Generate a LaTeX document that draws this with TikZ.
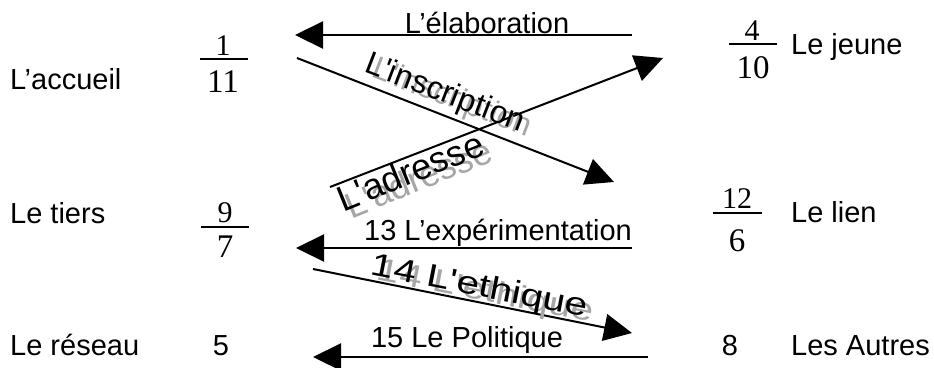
\documentclass[tikz,border=0pt]{standalone}
\usepackage{fontspec}
\usepackage{graphicx}
\setmainfont{Liberation Sans}
\newfontfamily\wafont{Liberation Sans}[Ligatures=TeXOff]
\newfontfamily\numfont{Liberation Serif}
\usetikzlibrary{arrows.meta}
\begin{document}
\begin{tikzpicture}[x=1pt,y=-1pt,
  txt/.style={inner sep=0pt,font=\fontsize{29}{34}\selectfont},
  num/.style={inner sep=0pt,font=\numfont\fontsize{33}{38}\selectfont},
  numup/.style={inner sep=0pt,font=\numfont\fontsize{30}{34}\selectfont},
  bar/.style={line width=1.6pt},
  arr/.style={line width=2.2pt,-{Triangle[length=28pt,width=27pt]}},
  darr/.style={line width=2pt,-{Triangle[length=28pt,width=27pt]}},
  wa/.style={inner sep=0pt,anchor=base},
  shadow/.style={text=black!35}]
\useasboundingbox (0,0) rectangle (934,367);
% left labels
\node[txt,anchor=base west] (accueil) at (10,89) {L’accueil};
\node[txt,anchor=base west] (tiers) at (10,223) {Le tiers};
\node[txt,anchor=base west] (reseau) at (10,355) {Le réseau};
% right labels
\node[txt,anchor=base west] (jeune) at (791,54) {Le jeune};
\node[txt,anchor=base west] (lien) at (791,222) {Le lien};
\node[txt,anchor=base west] (autres) at (791,355) {Les Autres};
% fractions
\node[numup,anchor=base] (n1) at (223,55) {1};
\draw[bar] (200,59) -- (248,59);
\node[num,anchor=base] (d1) at (223,92) {11};
\node[numup,anchor=base] (n2) at (225,222) {9};
\draw[bar] (201,227) -- (249,227);
\node[num,anchor=base] (d2) at (225,257) {7};
\node[numup,anchor=base] (n3) at (752,40) {4};
\draw[bar] (729,44) -- (777,44);
\node[num,anchor=base] (d3) at (753,78) {10};
\node[numup,anchor=base] (n4) at (737,208) {12};
\draw[bar] (713,213) -- (762,213);
\node[num,anchor=base] (d4) at (737,251) {6};
\node[txt,anchor=base] (five) at (221,355) {5};
\node[txt,anchor=base] (eight) at (730,355) {8};
% arrow end points
\coordinate (e1) at (632,35);  \coordinate (e2) at (295,35);
\coordinate (i1) at (297,58);  \coordinate (i2) at (614,182);
\coordinate (a1) at (330,187); \coordinate (a2) at (663,58);
\coordinate (x1) at (632,248); \coordinate (x2) at (296,248);
\coordinate (t1) at (313,269); \coordinate (t2) at (632,333);
\coordinate (p1) at (648,357); \coordinate (p2) at (313,357);
% arrows
\draw[arr] (e1) -- (e2);
\draw[darr] (i1) -- (i2);
\draw[darr] (a1) -- (a2);
\draw[arr] (x1) -- (x2);
\draw[darr] (t1) -- (t2);
\draw[arr] (p1) -- (p2);
% horizontal labels
\node[txt,anchor=base] (lelab) at (487,33) {L’élaboration};
\node[txt,anchor=base] (lexp) at (498,240) {13 L’expérimentation};
\node[txt,anchor=base] (lpol) at (467,347) {15 Le Politique};
% word-art labels with grey shadow
\node[wa,shadow,rotate=-21,font=\wafont\fontsize{32}{38}\selectfont] (linsS) at (449,107) {L'inscription};
\node[wa,rotate=-21,font=\wafont\fontsize{32}{38}\selectfont] (lins) at (442,102) {L'inscription};
\node[wa,shadow,rotate=22,font=\wafont\fontsize{36}{42}\selectfont] (ladrS) at (423,190) {L'adresse};
\node[wa,rotate=22,font=\wafont\fontsize{36}{42}\selectfont] (ladr) at (415,183) {L'adresse};
\node[wa,shadow,rotate=-11,font=\wafont\fontsize{32}{38}\selectfont] (ethS) at (484,301) {\scalebox{1.27}[1]{14 L'ethique}};
\node[wa,rotate=-11,font=\wafont\fontsize{32}{38}\selectfont] (eth) at (478,296) {\scalebox{1.27}[1]{14 L'ethique}};
\end{tikzpicture}
\end{document}
